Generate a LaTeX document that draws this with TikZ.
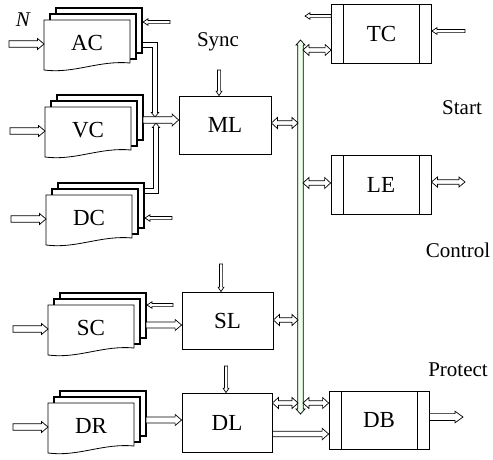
\documentclass[tikz,border=0pt]{standalone}
\usepackage{fontspec}
\setmainfont{Liberation Serif}
\usetikzlibrary{calc}
\newcommand\docstack[4]{%
 \begin{scope}[shift={(#1,#2)}]
  \draw[layerbox] (12,-12) rectangle (98,33);
  \draw[layerbox] (6,-6) rectangle (92,39);
  \draw[docfront] (0,0) -- (86,0) -- (86,43) .. controls (55,40) and (30,54) .. (0,50) -- cycle;
  \node[boxtext] (#3) at (43,23) {#4};
  \coordinate (#3-w) at (0,24);
 \end{scope}}
% hollow single-headed arrow: [fill]{from}{to}{half shaft}{half head}{head length}
\newcommand\harr[6][white]{%
 \path ($(#3)!#6!(#2)$) coordinate (hb);
 \draw[arrline, fill=#1] ($(#2)!#4!90:(#3)$) -- ($(hb)!#4!90:(#3)$) -- ($(hb)!#5!90:(#3)$) -- (#3)
   -- ($(hb)!#5!-90:(#3)$) -- ($(hb)!#4!-90:(#3)$) -- ($(#2)!#4!-90:(#3)$) -- cycle;}
% hollow double-headed arrow: [fill]{from}{to}{half shaft}{half head}{head length}
\newcommand\hdarr[6][white]{%
 \path ($(#3)!#6!(#2)$) coordinate (hb) ($(#2)!#6!(#3)$) coordinate (ha);
 \draw[arrline, fill=#1] (#2) -- ($(ha)!#5!90:(#3)$) -- ($(ha)!#4!90:(#3)$) -- ($(hb)!#4!90:(#3)$)
   -- ($(hb)!#5!90:(#3)$) -- (#3) -- ($(hb)!#5!-90:(#3)$) -- ($(hb)!#4!-90:(#3)$)
   -- ($(ha)!#4!-90:(#3)$) -- ($(ha)!#5!-90:(#3)$) -- cycle;}
% head only (open at the back): {base}{tip}{half shaft}{half head}
\newcommand\hhead[4]{%
 \fill[white] ($(#1)!#3!90:(#2)$) -- ($(#1)!#4!90:(#2)$) -- (#2) -- ($(#1)!#4!-90:(#2)$) -- ($(#1)!#3!-90:(#2)$) -- cycle;
 \draw[arrline] ($(#1)!#3!90:(#2)$) -- ($(#1)!#4!90:(#2)$) -- (#2) -- ($(#1)!#4!-90:(#2)$) -- ($(#1)!#3!-90:(#2)$);}
\begin{document}
\begin{tikzpicture}[x=1pt,y=-1pt,
  layerbox/.style={draw, line width=1.3pt, fill=white},
  docfront/.style={draw, line width=0.8pt, fill=white},
  boxtext/.style={font=\fontsize{23}{26}\selectfont, inner sep=0pt},
  lbl/.style={font=\fontsize{21}{24}\selectfont, inner sep=0pt},
  blk/.style={draw, line width=0.8pt, fill=white, font=\fontsize{23}{26}\selectfont, inner sep=0pt},
  panel/.style={blk, minimum width=100pt, minimum height=59pt, path picture={
     \draw[line width=0.8pt] ([xshift=12pt]path picture bounding box.north west) -- ([xshift=12pt]path picture bounding box.south west);
     \draw[line width=0.8pt] ([xshift=-12pt]path picture bounding box.north east) -- ([xshift=-12pt]path picture bounding box.south east);}},
  arrline/.style={draw, line width=0.7pt, line join=miter},
  bentline/.style={draw, line width=0.8pt, line join=miter}
]
\useasboundingbox (0,0) rectangle (493,459);

% document stacks
\docstack{44}{20}{AC}{AC}
\docstack{45}{107}{VC}{VC}
\docstack{46}{195}{DC}{DC}
\docstack{48}{305}{SC}{SC}
\docstack{48}{403}{DR}{DR}

% blocks
\node[blk, minimum width=92pt, minimum height=58pt] (ML) at (225,125) {ML};
\node[blk, minimum width=91pt, minimum height=57pt] (SL) at (227.5,320.5) {SL};
\node[blk, minimum width=90pt, minimum height=59pt] (DL) at (227,422.5) {DL};
\node[panel] (TC) at (381.5,33.5) {TC};
\node[panel] (LE) at (381,184.5) {LE};
\node[panel, minimum height=58pt] (DB) at (379,420) {DB};

% labels
\node[lbl, font=\fontsize{21}{24}\selectfont\itshape] (N) at (23,20) {N};
\node[lbl] (sync) at (218,42) {Sync};
\node[lbl] (start) at (462,108) {Start};
\node[lbl] (control) at (458,250) {Control};
\node[lbl] (protect) at (458,370) {Protect};

% input arrows
\coordinate (acsrc) at (9,44);
\coordinate (vcsrc) at (10,131);
\coordinate (dcsrc) at (11,219);
\coordinate (scsrc) at (13,329);
\coordinate (drsrc) at (13,427);
\harr{acsrc}{AC-w}{3.2pt}{5.5pt}{6.5pt}
\harr{vcsrc}{VC-w}{3.2pt}{5.5pt}{6.5pt}
\harr{dcsrc}{DC-w}{3.2pt}{5.5pt}{6.5pt}
\harr{scsrc}{SC-w}{3.2pt}{5.5pt}{6.5pt}
\harr{drsrc}{DR-w}{3.2pt}{5.5pt}{6.5pt}

% control arrows into stacks
\coordinate (acctl) at (170,22);  \coordinate (acctlend) at (143,22);
\coordinate (dcctl) at (172,218); \coordinate (dcctlend) at (145,218);
\coordinate (scctl) at (173,305); \coordinate (scctlend) at (147,305);
\harr{acctl}{acctlend}{1.6pt}{3.3pt}{5pt}
\harr{dcctl}{dcctlend}{1.6pt}{3.3pt}{5pt}
\harr{scctl}{scctlend}{1.6pt}{3.3pt}{5pt}

% stack outputs to ML
\coordinate (vcout) at (143,120);
\coordinate (mlW) at (ML.west |- vcout);
% AC: right, then down onto the VC->ML arrow
\coordinate (acout) at (142,45);
\coordinate (acbase) at (155,112.5);
\coordinate (acend) at (155,117);
\draw[bentline] ($(acout)+(0,-2.2)$) -| ($(acbase)+(2.2,0)$);
\draw[bentline] ($(acout)+(0,2.2)$) -| ($(acbase)+(-2.2,0)$);
\hhead{acbase}{acend}{2.2pt}{3.6pt}
% DC: right, then up onto the VC->ML arrow
\coordinate (dcout) at (144,191);
\coordinate (dcbase) at (156,127.5);
\coordinate (dcend) at (156,123);
\draw[bentline] ($(dcout)+(0,2.2)$) -| ($(dcbase)+(2.2,0)$);
\draw[bentline] ($(dcout)+(0,-2.2)$) -| ($(dcbase)+(-2.2,0)$);
\hhead{dcbase}{dcend}{2.2pt}{3.6pt}
\harr{vcout}{mlW}{3.2pt}{6pt}{6.5pt}

% SC, DR outputs
\coordinate (scout) at (146,325);
\coordinate (slW) at (SL.west |- scout);
\coordinate (drout) at (146,420);
\coordinate (dlW) at (DL.west |- drout);
\harr{scout}{slW}{3pt}{5.5pt}{6.5pt}
\harr{drout}{dlW}{3pt}{5.5pt}{6.5pt}

% top control arrows into logic blocks
\coordinate (mlctl) at (219,70);
\coordinate (mlN) at (mlctl |- ML.north);
\coordinate (slctl) at (221,264);
\coordinate (slN) at (slctl |- SL.north);
\coordinate (dlctl) at (226,366);
\coordinate (dlN) at (dlctl |- DL.north);
\harr{mlctl}{mlN}{1.6pt}{3pt}{4.5pt}
\harr{slctl}{slN}{1.6pt}{3pt}{4.5pt}
\harr{dlctl}{dlN}{1.6pt}{3pt}{4.5pt}

% bus
\coordinate (bustop) at (300.5,40);
\coordinate (busbot) at (300.5,414);
\hdarr[green!8]{busbot}{bustop}{2.8pt}{4.5pt}{5pt}

% bus connections
\coordinate (bML) at (298,123);   \coordinate (mlE) at (ML.east |- bML);
\coordinate (bTC) at (303,50);    \coordinate (tcW) at (TC.west |- bTC);
\coordinate (bLE) at (303,183);   \coordinate (leW) at (LE.west |- bLE);
\coordinate (bSL) at (298,320);   \coordinate (slE) at (SL.east |- bSL);
\coordinate (bDLl) at (298,403);  \coordinate (dlE) at (DL.east |- bDLl);
\coordinate (bDBr) at (303,403);  \coordinate (dbW) at (DB.west |- bDBr);
\hdarr{mlE}{bML}{2.3pt}{5.5pt}{6pt}
\hdarr{bTC}{tcW}{2.3pt}{5.5pt}{6pt}
\hdarr{bLE}{leW}{2.3pt}{5.5pt}{6pt}
\hdarr{slE}{bSL}{2.3pt}{5.5pt}{6pt}
\hdarr{dlE}{bDLl}{2.3pt}{5.5pt}{6pt}
\hdarr{bDBr}{dbW}{2.3pt}{5.5pt}{6pt}

% DL to DB
\coordinate (dldb) at (DL.east |- 0,434);
\coordinate (dbW2) at (DB.west |- dldb);
\harr{dldb}{dbW2}{2.8pt}{5.8pt}{6.5pt}

% right side arrows
\coordinate (tcout) at (305,16);
\coordinate (tcW2) at (TC.west |- tcout);
\harr{tcW2}{tcout}{1.6pt}{3.3pt}{5pt}
\coordinate (tcin) at (465,31);
\coordinate (tcE) at (TC.east |- tcin);
\harr{tcin}{tcE}{1.6pt}{3.3pt}{5pt}
\coordinate (leout) at (465,182);
\coordinate (leE) at (LE.east |- leout);
\hdarr{leE}{leout}{2.3pt}{5pt}{6pt}
\coordinate (dbout) at (463,417);
\coordinate (dbE) at (DB.east |- dbout);
\harr{dbE}{dbout}{3.4pt}{5.8pt}{8pt}
\end{tikzpicture}
\end{document}
